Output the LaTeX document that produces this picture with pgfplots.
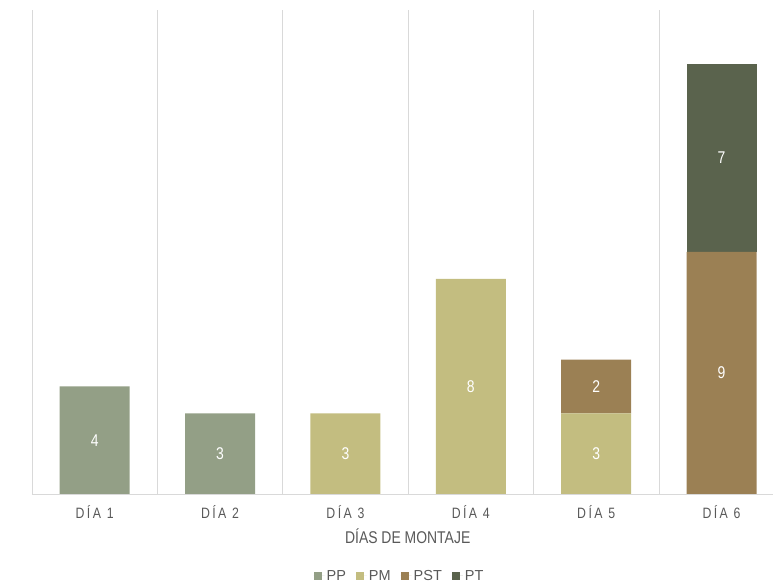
\documentclass[border=0pt]{standalone}
\usepackage{fontspec}
\setmainfont{Liberation Sans}[FakeStretch=0.82]
\newfontfamily\reg{Liberation Sans}
\usepackage{pgfplots}
\pgfplotsset{compat=1.18}
\definecolor{cPP}{HTML}{939F86}
\definecolor{cPM}{HTML}{C3BD80}
\definecolor{cPST}{HTML}{9B8054}
\definecolor{cPT}{HTML}{5A634D}
\definecolor{txt}{HTML}{595959}
\definecolor{gridc}{HTML}{D9D9D9}
\pgfplotsset{sq/.style={legend image code/.code={\fill[##1] (0pt,-4pt) rectangle (8pt,4pt); \path (0pt,0pt) -- (11pt,0pt);}}}
\pgfplotstableread{
x y lab
0 2 4
1 1.5 3
2 1.5 3
3 4 8
4 1.5 3
4 4 2
5 4.5 9
5 12.5 7
}\labels
\begin{document}
\begin{tikzpicture}
\begin{axis}[
  scale only axis, width=741pt, height=484pt,
  ybar stacked, bar width=70pt,
  xmin=-0.5, xmax=5.41, ymin=0, ymax=18,
  xtick={0,1,2,3,4,5},
  xticklabels={DÍA 1,DÍA 2,DÍA 3,DÍA 4,DÍA 5,DÍA 6},
  minor xtick={-0.5,0.5,1.5,2.5,3.5,4.5},
  xminorgrids, minor grid style={gridc, line width=0.8pt},
  major tick length=0pt, minor tick length=0pt,
  ytick=\empty,
  axis x line*=bottom, axis y line=none,
  x axis line style={gridc, line width=0.8pt},
  xticklabel style={text=txt, font=\fontsize{15}{16}\selectfont\addfontfeatures{LetterSpace=16}, yshift=-8pt},
  xlabel={DÍAS DE MONTAJE},
  xlabel style={at={(axis description cs:0.507,-0.0868)}, anchor=center, text=txt, font=\fontsize{17}{19}\selectfont},
  ylabel={CANTIDAD DE PANEELS (unidades)},
  ylabel style={at={(axis description cs:-0.0162,0.5)}, anchor=center, text=txt, font=\fontsize{17}{19}\selectfont},
  legend style={at={(axis description cs:0.496,-0.169)}, anchor=center, draw=none, fill=none,
    legend columns=-1, font=\reg\fontsize{14.5}{16}\selectfont, text=txt,
    /tikz/every even column/.append style={column sep=8pt}},
]
\addplot[fill=cPP, draw=none, sq] coordinates {(0,4) (1,3) (2,0) (3,0) (4,0) (5,0)};
\addplot[fill=cPM, draw=none, sq] coordinates {(0,0) (1,0) (2,3) (3,8) (4,3) (5,0)};
\addplot[fill=cPST, draw=none, sq] coordinates {(0,0) (1,0) (2,0) (3,0) (4,2) (5,9)};
\addplot[fill=cPT, draw=none, sq] coordinates {(0,0) (1,0) (2,0) (3,0) (4,0) (5,7)};
\legend{PP,PM,PST,PT}
\coordinate (O) at (rel axis cs:0,0);
\end{axis}
\begin{axis}[
  scale only axis, width=741pt, height=484pt,
  xmin=-0.5, xmax=5.41, ymin=0, ymax=18,
  hide axis, clip=false,
]
\addplot[only marks, mark=none, point meta=explicit symbolic,
  nodes near coords,
  every node near coord/.append style={text=white, font=\fontsize{17}{18}\selectfont, anchor=center, inner sep=0pt}]
  table[x=x, y=y, meta=lab] {\labels};
\end{axis}
\pgfresetboundingbox
\path[use as bounding box] (O) ++(-32pt,-94pt) rectangle ++(773pt,588pt);
\end{tikzpicture}
\end{document}
